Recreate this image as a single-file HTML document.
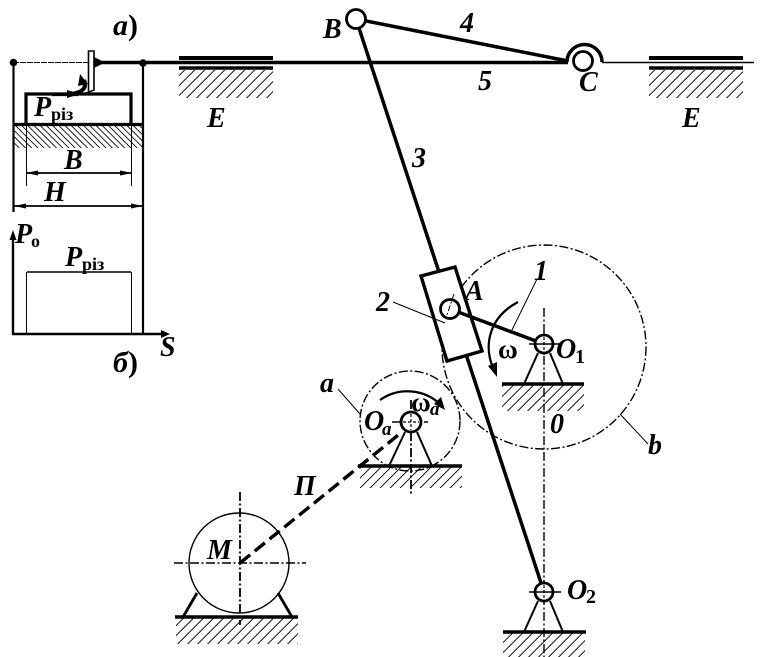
<!DOCTYPE html>
<html><head><meta charset="utf-8"><style>
html,body{margin:0;padding:0;background:#fff}
svg{display:block}
text{font-family:"Liberation Serif",serif;font-weight:bold;fill:#000}
.i{font-style:italic;font-size:28px}
.s{font-size:18px}
.ha{stroke:#000;stroke-dasharray:1.300 8.700;fill:none}
</style></head><body>
<svg width="761" height="657" viewBox="0 0 761 657" xmlns="http://www.w3.org/2000/svg">
<defs>
<clipPath id="c1"><rect x="179" y="70" width="94" height="28"/></clipPath>
<clipPath id="c2"><rect x="649" y="70" width="94" height="28"/></clipPath>
<clipPath id="c3"><rect x="14" y="125" width="129" height="23"/></clipPath>
<clipPath id="c4"><rect x="502" y="385" width="82" height="26"/></clipPath>
<clipPath id="c5"><rect x="360" y="467" width="102" height="21"/></clipPath>
<clipPath id="c6"><rect x="176" y="618" width="122" height="26"/></clipPath>
<clipPath id="c7"><rect x="503" y="633" width="82" height="24"/></clipPath>
</defs>
<!-- hatches -->
<g clip-path="url(#c1)"><line class="ha" x1="140" x2="310" y1="84" y2="84" stroke-width="28" transform="translate(0 84) skewX(-45) translate(0 -84)"/></g>
<g clip-path="url(#c2)"><line class="ha" x1="610" x2="780" y1="84" y2="84" stroke-width="28" transform="translate(0 84) skewX(-45) translate(0 -84)"/></g>
<g clip-path="url(#c3)"><line class="ha" style="stroke-dasharray:1.200 5" x1="-30" x2="190" y1="136.500" y2="136.500" stroke-width="23" transform="translate(0 136.500) skewX(45) translate(0 -136.500)"/></g>
<g clip-path="url(#c4)"><line class="ha" x1="470" x2="620" y1="398" y2="398" stroke-width="26" transform="translate(0 398) skewX(-45) translate(0 -398)"/></g>
<g clip-path="url(#c5)"><line class="ha" x1="330" x2="490" y1="477.500" y2="477.500" stroke-width="21" transform="translate(0 477.500) skewX(-45) translate(0 -477.500)"/></g>
<g clip-path="url(#c6)"><line class="ha" x1="140" x2="330" y1="631" y2="631" stroke-width="26" transform="translate(0 631) skewX(-45) translate(0 -631)"/></g>
<g clip-path="url(#c7)"><line class="ha" x1="470" x2="620" y1="645" y2="645" stroke-width="24" transform="translate(0 645) skewX(-45) translate(0 -645)"/></g>
<!-- circles dash-dot -->
<g fill="none" stroke="#000" stroke-width="1.400" stroke-dasharray="9 2.500 2 2.500">
<circle cx="544" cy="347" r="102"/>
<circle cx="410" cy="421" r="50"/>
<line x1="544" y1="308" x2="544" y2="657"/>
<line x1="411" y1="400" x2="411" y2="496" stroke-width="1.800"/>
<line x1="392" y1="422" x2="428" y2="422"/>
<line x1="240" y1="492" x2="240" y2="625" stroke-width="1.800"/>
<line x1="174" y1="563" x2="306" y2="563"/>
</g>
<!-- main sliders -->
<g stroke="#000" fill="none">
<line x1="95" y1="62.500" x2="568" y2="62.500" stroke-width="3.500"/>
<line x1="602" y1="62.500" x2="754" y2="62.500" stroke-width="1.500"/>
<line x1="13" y1="62.500" x2="95" y2="62.500" stroke-width="1" stroke-dasharray="6 1"/>
<line x1="179" y1="58" x2="273" y2="58" stroke-width="4"/>
<line x1="179" y1="68" x2="273" y2="68" stroke-width="3.500"/>
<line x1="649" y1="58" x2="743" y2="58" stroke-width="4"/>
<line x1="649" y1="68" x2="743" y2="68" stroke-width="3.500"/>
<!-- left diagram -->
<line x1="13.500" y1="62" x2="13.500" y2="212" stroke-width="2.200"/>
<line x1="143" y1="62" x2="143" y2="334" stroke-width="2.200"/>
<polyline points="26,124 26,94 131,94 131,124" stroke-width="3.200"/>
<line x1="13" y1="124.500" x2="143" y2="124.500" stroke-width="3.200"/>
<line x1="26.500" y1="124" x2="26.500" y2="186" stroke-width="1"/>
<line x1="131.500" y1="124" x2="131.500" y2="186" stroke-width="1"/>
<line x1="27" y1="173" x2="131" y2="173" stroke-width="1.800"/>
<line x1="14" y1="206" x2="143" y2="206" stroke-width="1.800"/>
<polygon points="26,173 38,170.500 38,175.500" fill="#000" stroke="none"/>
<polygon points="132,173 120,170.500 120,175.500" fill="#000" stroke="none"/>
<polygon points="14,206 26,203.500 26,208.500" fill="#000" stroke="none"/>
<polygon points="143,206 131,203.500 131,208.500" fill="#000" stroke="none"/>
<!-- tool -->
<path d="M88.500 51H94V90L84 94H88.500Z" fill="#fff" stroke-width="1.600"/>
<line x1="52" y1="94.500" x2="78" y2="94.500" stroke-width="3.200"/>
<polygon points="80,94 67,90 67,98" fill="#000" stroke="none"/>
<path d="M70 94Q89 92 84 80" stroke-width="4"/>
<polygon points="80,74 78,86 88,84" fill="#000" stroke="none"/>
<polygon points="105,62.500 94,57 94,68" fill="#000" stroke="none"/>
<!-- graph -->
<line x1="13" y1="334" x2="13" y2="236" stroke-width="2.400"/>
<line x1="12" y1="334" x2="163" y2="334" stroke-width="2.400"/>
<polygon points="13,230 9.500,240 16.500,240" fill="#000" stroke="none"/>
<polygon points="170,334 161,330 161,338" fill="#000" stroke="none"/>
<line x1="27" y1="272" x2="131" y2="272" stroke-width="1.500"/>
<line x1="26.500" y1="272" x2="26.500" y2="334" stroke-width="1"/>
<line x1="131.500" y1="272" x2="131.500" y2="334" stroke-width="1"/>
<!-- links -->
<line x1="356" y1="19" x2="544" y2="592" stroke-width="3.500"/>
<line x1="356" y1="19" x2="568" y2="61" stroke-width="3.500"/>
<path d="M567 62A17.500 17.500 0 0 1 602 62" stroke-width="3.500"/>
<polygon points="421,276 455,267 482,351 447,361" fill="#fff" stroke-width="3.400"/>
<line x1="450" y1="309" x2="544" y2="344" stroke-width="3.500"/>
<line x1="393" y1="302" x2="445" y2="323" stroke-width="1"/>
<line x1="537" y1="279" x2="511" y2="332" stroke-width="1"/>
<line x1="620" y1="414" x2="648" y2="444" stroke-width="1"/>
<line x1="338" y1="389" x2="360" y2="414" stroke-width="1"/>
<!-- omega arc -->
<path d="M518 302C488 318 484 346 493 368" stroke-width="2.200"/>
<polygon points="497,377 488,366 497,362" fill="#000" stroke="none"/>
<path d="M380 400C400 386 425 390 440 404" stroke-width="2.200"/>
<polygon points="445,410 434,404 441,397" fill="#000" stroke="none"/>
<!-- grounds -->
<line x1="502" y1="384" x2="584" y2="384" stroke-width="3.400"/>
<polyline points="524,384 538,353" stroke-width="2"/>
<polyline points="563,384 550,353" stroke-width="2"/>
<line x1="358" y1="466" x2="462" y2="466" stroke-width="3.400"/>
<line x1="389" y1="466" x2="405" y2="432" stroke-width="2"/>
<line x1="432" y1="466" x2="417" y2="432" stroke-width="2"/>
<line x1="175" y1="617" x2="298" y2="617" stroke-width="3.400"/>
<line x1="183" y1="617" x2="197" y2="593" stroke-width="2.800"/>
<line x1="292" y1="617" x2="278" y2="593" stroke-width="2.800"/>
<line x1="503" y1="632" x2="586" y2="632" stroke-width="3.400"/>
<line x1="524" y1="632" x2="538" y2="601" stroke-width="2"/>
<line x1="563" y1="632" x2="550" y2="601" stroke-width="2"/>
<!-- motor -->
<circle cx="239" cy="563" r="50" stroke-width="1.400"/>
<line x1="240" y1="563" x2="402" y2="432" stroke-width="3.400" stroke-dasharray="13 6"/>
<!-- joints -->
<circle cx="356" cy="19" r="9.500" fill="#fff" stroke-width="2.800"/>
<circle cx="583" cy="61" r="9.500" fill="#fff" stroke-width="2.800"/>
<circle cx="450" cy="309" r="9.500" fill="#fff" stroke-width="2.800"/>
<circle cx="544" cy="344" r="9" fill="#fff" stroke-width="2.800"/>
<circle cx="411" cy="422" r="10" fill="#fff" stroke-width="2.800"/>
<circle cx="544" cy="592" r="9" fill="#fff" stroke-width="2.800"/>
<line x1="454" y1="294" x2="447" y2="315" stroke-width="1" stroke-dasharray="6 2 2 2"/>
<line x1="529" y1="344" x2="560" y2="344" stroke-width="1.600"/>
<line x1="529" y1="592" x2="561" y2="592" stroke-width="1.600"/>
<line x1="403" y1="422" x2="419" y2="422" stroke-width="1.200" stroke-dasharray="3 2"/>
<line x1="411" y1="414" x2="411" y2="430" stroke-width="1.200" stroke-dasharray="3 2"/>
<line x1="544" y1="580" x2="544" y2="604" stroke-width="1.200" stroke-dasharray="3 2"/>
<line x1="544" y1="332" x2="544" y2="356" stroke-width="1.200" stroke-dasharray="3 2"/>
<circle cx="13.500" cy="62.500" r="3.800" fill="#000" stroke="none"/>
<circle cx="143" cy="63" r="3.800" fill="#000" stroke="none"/>
</g>
<!-- labels -->
<text class="i" x="113" y="35" style="font-size:30px">а<tspan font-style="normal">)</tspan></text>
<text class="i" x="113" y="372" style="font-size:30px">б<tspan font-style="normal">)</tspan></text>
<text class="i" x="323" y="38">B</text>
<text class="i" x="460" y="32">4</text>
<text class="i" x="478" y="90">5</text>
<text class="i" x="579" y="91">C</text>
<text class="i" x="207" y="127">E</text>
<text class="i" x="682" y="127">E</text>
<text class="i" x="34" y="116">P</text><text class="s" x="51" y="120">різ</text>
<text class="i" x="64" y="169">B</text>
<text class="i" x="44" y="201">H</text>
<text class="i" x="15" y="243">P</text><text class="s" x="31" y="247">о</text>
<text class="i" x="65" y="266">P</text><text class="s" x="82" y="270">різ</text>
<text class="i" x="160" y="356">S</text>
<text class="i" x="412" y="167">3</text>
<text class="i" x="376" y="311">2</text>
<text class="i" x="534" y="280">1</text>
<text class="i" x="465" y="300">A</text>
<text x="498" y="358" style="font-size:27px">ω</text>
<text class="i" x="556" y="358">O</text><text x="575" y="363" style="font-size:20px">1</text>
<text class="i" x="550" y="433">0</text>
<text class="i" x="648" y="454">b</text>
<text class="i" x="320" y="392">a</text>
<text class="i" x="364" y="430">O</text><text x="382" y="435" style="font-size:19px;font-style:italic">a</text>
<text x="411" y="411" style="font-size:27px">ω</text><text x="430" y="415" style="font-size:19px;font-style:italic">a</text>
<text class="i" x="294" y="495">П</text>
<text class="i" x="207" y="559">M</text>
<text class="i" x="567" y="599">O</text><text x="586" y="603" style="font-size:20px">2</text>
</svg>
</body></html>
